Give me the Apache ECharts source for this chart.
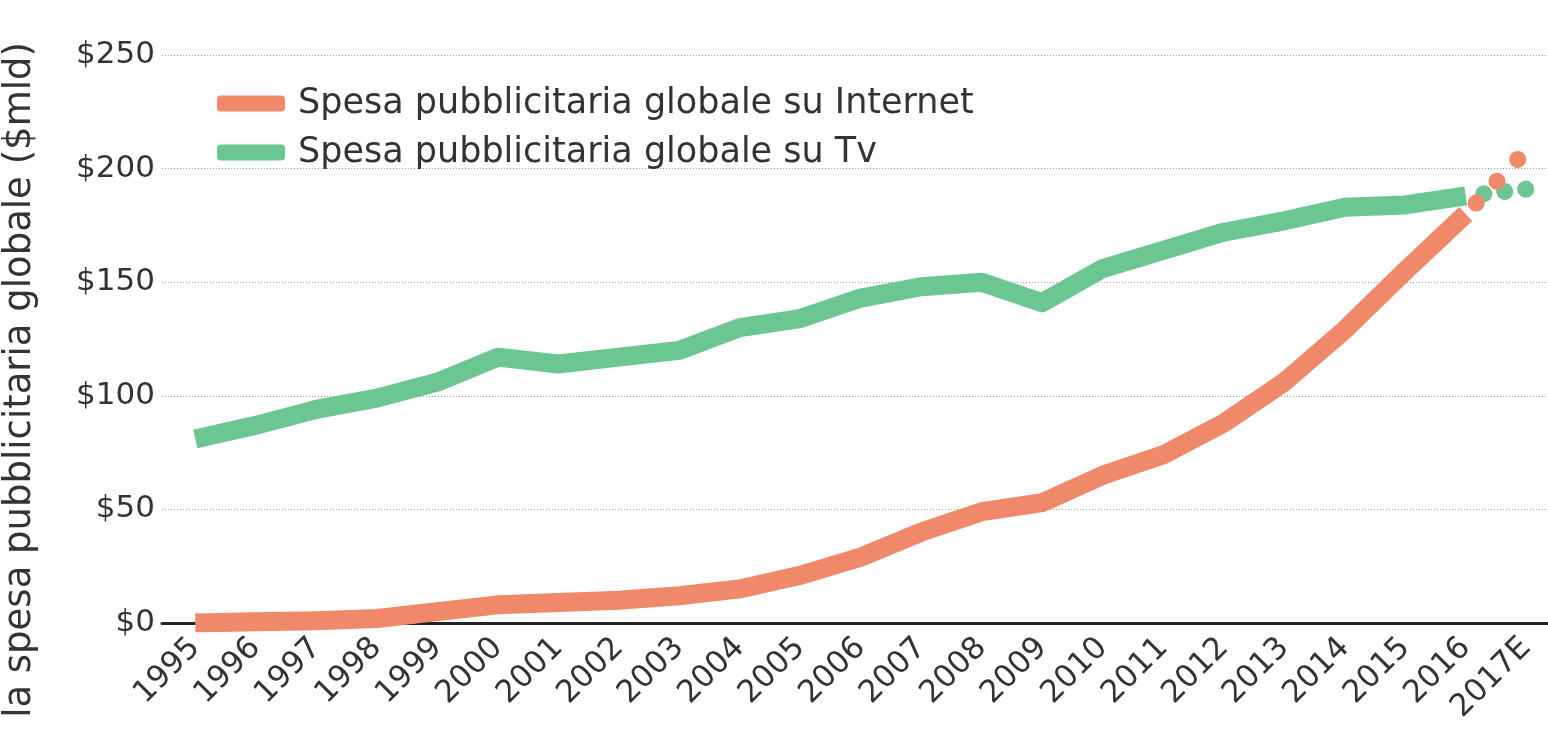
<!DOCTYPE html>
<html>
<head>
<meta charset="utf-8">
<script src="https://cdn.jsdelivr.net/npm/echarts@6/dist/echarts.min.js"></script>
<style>
html,body{margin:0;padding:0;background:#fff;}
#c{width:1548px;height:742px;}
</style>
</head>
<body>
<div id="c"></div>
<script>
// Data
var years = [1995,1996,1997,1998,1999,2000,2001,2002,2003,2004,2005,2006,2007,2008,2009,2010,2011,2012,2013,2014,2015,2016,2017];
var yearLabels = ['1995','1996','1997','1998','1999','2000','2001','2002','2003','2004','2005','2006','2007','2008','2009','2010','2011','2012','2013','2014','2015','2016','2017E'];
var internetSpend = [0,0.5,1,2,5,8,9,10,12,15,21,29,40,49,53,65,74,88,106,129,155,180,208];
var tvSpend = [81,87,94,99,106,117,114,117,120,130,134,143,148,150,141,156,164,172,177,183,184,188,191];
var yTicks = [0,50,100,150,200,250];
var seriesNames = ['Spesa pubblicitaria globale su Internet','Spesa pubblicitaria globale su Tv'];
var yAxisTitle = 'la spesa pubblicitaria globale ($mld)';

var ORANGE = '#F0886A', GREEN = '#6CC692';
var FONT = 'DejaVu Sans';

function pairs(arr, from, to){
  var out=[];
  for (var i=from;i<=to;i++) out.push([years[i], arr[i]]);
  return out;
}
var nLast = years.length-1;

var chart = echarts.init(document.getElementById('c'), null, {renderer:'canvas'});
chart.setOption({
  animation:false,
  backgroundColor:'#fff',
  grid:{left:162, right:0, top:55, bottom:119, containLabel:false},
  legend:{
    orient:'vertical', left:212, top:79, itemGap:10,
    itemWidth:68, itemHeight:16, icon:'roundRect',
    data:seriesNames,
    textStyle:{fontFamily:FONT, fontSize:35, color:'#333', lineHeight:39, padding:[0,0,0,8]}
  },
  xAxis:{
    type:'value', min:1994.45, max:2017.36,
    splitLine:{show:false},
    axisTick:{show:false},
    axisLine:{show:true, onZero:false, lineStyle:{color:'#222', width:3}},
    axisLabel:{
      customValues: years,
      rotate:45, margin:20,
      fontFamily:FONT, fontSize:31, color:'#333',
      formatter:function(v){ var i=years.indexOf(Math.round(v)); return i>=0? yearLabels[i] : ''; }
    }
  },
  yAxis:{
    type:'value', min:0, max:250, interval:50,
    axisLine:{show:false}, axisTick:{show:false},
    axisLabel:{ margin:7, fontFamily:FONT, fontSize:31, color:'#333',
      customValues: yTicks,
      formatter:function(v){return '$'+v;} },
    splitLine:{show:true, lineStyle:{color:'#9a9a9a', width:1, type:[1,2]}}
  },
  graphic:[{
    type:'text', x:20, y:380, rotation:Math.PI/2,
    style:{text:yAxisTitle, fill:'#333', font:'37px "DejaVu Sans"', textAlign:'center', textVerticalAlign:'middle'}
  }],
  series:[
    {name:seriesNames[0], type:'line', data:pairs(internetSpend,0,nLast-1), showSymbol:false, symbol:'none',
     itemStyle:{color:ORANGE}, lineStyle:{color:ORANGE, width:19, cap:'butt', join:'round'}, z:3},
    {name:seriesNames[1], type:'line', data:pairs(tvSpend,0,nLast-1), showSymbol:false, symbol:'none',
     itemStyle:{color:GREEN}, lineStyle:{color:GREEN, width:19, cap:'butt', join:'round'}, z:2},
    {name:'proj-tv', type:'line', data:pairs(tvSpend,nLast-1,nLast), showSymbol:false, symbol:'none',
     lineStyle:{color:GREEN, width:17, cap:'round', type:[0.1,21], dashOffset:3}, z:2},
    {name:'proj-int', type:'line', data:pairs(internetSpend,nLast-1,nLast), showSymbol:false, symbol:'none',
     lineStyle:{color:ORANGE, width:17, cap:'round', type:[0.1,30], dashOffset:15}, z:3}
  ]
});
</script>
</body>
</html>
